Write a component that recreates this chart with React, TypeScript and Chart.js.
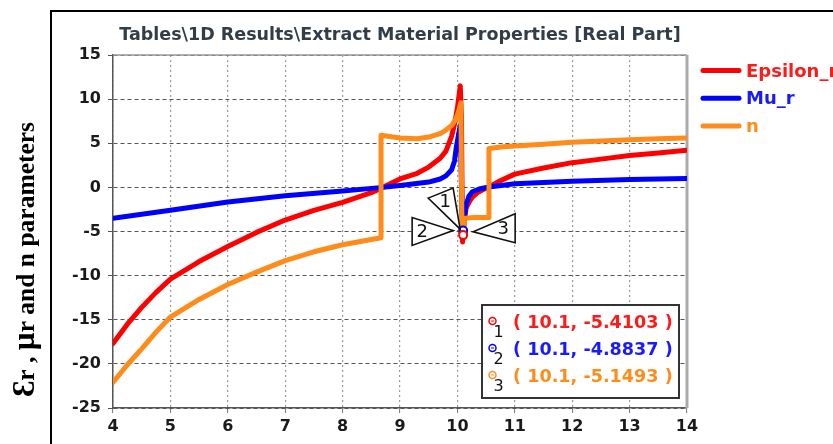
import React, { useEffect, useRef } from "react";
import { Chart, registerables } from "chart.js";
Chart.register(...registerables);

// ---------------- data ----------------
const epsX = [4, 4.25, 4.5, 4.75, 5, 5.5, 6, 6.5, 7, 7.5, 8, 8.5, 8.7, 9, 9.3, 9.5, 9.7, 9.8, 9.9, 9.95, 10.0, 10.03, 10.05, 10.07, 10.09, 10.1, 10.12, 10.15, 10.2, 10.26, 10.35, 10.45, 10.55, 10.7, 11, 11.5, 12, 12.5, 13, 13.5, 14];
const epsY = [-17.7, -15.5, -13.6, -11.9, -10.4, -8.4, -6.7, -5.1, -3.7, -2.6, -1.7, -0.6, 0, 0.95, 1.6, 2.3, 3.3, 4.1, 5.8, 7.2, 9.0, 10.5, 11.5, 8.0, -6.2, -5.41, -3.8, -2.4, -1.7, -1.1, -0.6, -0.25, 0.05, 0.6, 1.5, 2.2, 2.8, 3.2, 3.6, 3.9, 4.2];

const muX = [4, 5, 6, 7, 8, 8.7, 9, 9.5, 9.7, 9.8, 9.9, 9.95, 9.98, 10.02, 10.05, 10.08, 10.1, 10.12, 10.15, 10.2, 10.26, 10.4, 10.55, 11, 12, 13, 14];
const muY = [-3.5, -2.6, -1.65, -0.95, -0.4, 0, 0.2, 0.6, 0.95, 1.3, 2.0, 3.0, 4.5, 6.0, 7.0, -3.0, -4.88, -3.6, -2.0, -1.0, -0.5, -0.15, 0.05, 0.4, 0.7, 0.9, 1.0];

const nX = [4, 4.25, 4.5, 4.75, 5, 5.5, 6, 6.5, 7, 7.5, 8, 8.5, 8.67, 8.67, 9, 9.3, 9.5, 9.7, 9.8, 9.9, 9.97, 10.02, 10.06, 10.08, 10.1, 10.13, 10.3, 10.55, 10.55, 10.8, 11, 11.5, 12, 12.5, 13, 13.5, 14];
const nY = [-22.1, -20.1, -18.3, -16.4, -14.7, -12.7, -11.0, -9.6, -8.3, -7.3, -6.5, -5.9, -5.7, 5.9, 5.6, 5.5, 5.7, 6.1, 6.5, 7.0, 7.7, 8.6, 9.6, -5.15, -5.15, -3.5, -3.4, -3.4, 4.4, 4.6, 4.7, 4.9, 5.1, 5.25, 5.4, 5.5, 5.6];

const seriesNames = ["Epsilon_r", "Mu_r", "n"];
const seriesColors = ["#ff0000", "#0000ff", "#ff8c1a"];
const textColors = ["#ff1a1a", "#1a1aff", "#ff8c1a"];

const markerX = [10.1, 10.1, 10.1];
const markerY = [-5.4103, -4.8837, -5.1493];
const markerLabels = ["1", "2", "3"];

const xMin = 4, xMax = 14, xStep = 1;
const yMin = -25, yMax = 15, yStep = 5;

const titleText = "Tables\\1D Results\\Extract Material Properties [Real Part]";
const yTitleParts: [string, number][] = [["Ɛ", 31], ["r , ", 25.5], ["µ", 31], ["r and n parameters", 25.5]];

const FONT = "'DejaVu Sans', Verdana, sans-serif";
const SERIF = "'Liberation Serif', 'Times New Roman', serif";

// triangle pointer offsets (pixels, relative to each marker)
const triShapes: { pts: [number, number][]; label: [number, number] }[] = [
  { pts: [[-35, -37], [-10, -47], [-3, -6]], label: [-18, -33] },
  { pts: [[-51, -13], [-51, 15], [-10, 0]], label: [-41, 2] },
  { pts: [[52, -19], [52, 10], [10, -1]], label: [40, -3] },
];

export default function App() {
  const ref = useRef<HTMLCanvasElement>(null);

  useEffect(() => {
    const canvas = ref.current!;

    const overlay = {
      id: "overlay",
      beforeDraw(chart: any) {
        const ctx = chart.ctx;
        ctx.save();
        ctx.fillStyle = "#ffffff";
        ctx.fillRect(0, 0, chart.width, chart.height);
        ctx.strokeStyle = "#000";
        ctx.lineWidth = 2;
        ctx.beginPath();
        ctx.moveTo(51, chart.height + 2);
        ctx.lineTo(51, 11);
        ctx.lineTo(chart.width + 2, 11);
        ctx.stroke();
        ctx.restore();
      },
      beforeDatasetsDraw(chart: any) {
        const ctx = chart.ctx;
        const a = chart.chartArea;
        ctx.save();
        ctx.strokeStyle = "#999";
        ctx.lineWidth = 1.5;
        ctx.beginPath();
        ctx.moveTo(a.left, a.top);
        ctx.lineTo(a.right, a.top);
        ctx.stroke();
        ctx.strokeStyle = "#aaa";
        ctx.lineWidth = 3;
        ctx.beginPath();
        ctx.moveTo(a.right, a.top);
        ctx.lineTo(a.right, a.bottom);
        ctx.stroke();
        ctx.restore();
      },
      afterDraw(chart: any) {
        const ctx = chart.ctx;
        const a = chart.chartArea;
        const xs = chart.scales.x;
        const ys = chart.scales.y;
        ctx.save();

        // title
        ctx.font = `bold 17.5px ${FONT}`;
        ctx.fillStyle = "#333d48";
        ctx.textAlign = "center";
        ctx.textBaseline = "alphabetic";
        ctx.fillText(titleText, (a.left + a.right) / 2, 39.5);

        // legend
        for (let i = 0; i < seriesNames.length; i++) {
          const y = 70.5 + i * 27.7;
          ctx.strokeStyle = seriesColors[i];
          ctx.lineWidth = 5;
          ctx.lineCap = "round";
          ctx.beginPath();
          ctx.moveTo(703, y);
          ctx.lineTo(739, y);
          ctx.stroke();
          ctx.font = `bold 18px ${FONT}`;
          ctx.fillStyle = textColors[i];
          ctx.textAlign = "left";
          ctx.fillText(seriesNames[i], 746, y + 6);
        }

        // y title (rotated)
        ctx.save();
        ctx.translate(33.5, 397);
        ctx.rotate(-Math.PI / 2);
        ctx.fillStyle = "#000";
        ctx.textAlign = "left";
        let off = 0;
        for (const [s, sz] of yTitleParts) {
          ctx.font = `bold ${sz}px ${SERIF}`;
          ctx.fillText(s, off, 0);
          off += ctx.measureText(s).width;
        }
        ctx.restore();

        // triangle pointers
        for (let i = 0; i < markerX.length; i++) {
          const px = xs.getPixelForValue(markerX[i]);
          const py = ys.getPixelForValue(markerY[i]);
          const t = triShapes[i];
          ctx.beginPath();
          ctx.moveTo(px + t.pts[0][0], py + t.pts[0][1]);
          for (let k = 1; k < t.pts.length; k++) ctx.lineTo(px + t.pts[k][0], py + t.pts[k][1]);
          ctx.closePath();
          ctx.fillStyle = "#fff";
          ctx.fill();
          ctx.strokeStyle = "#111";
          ctx.lineWidth = 1.6;
          ctx.lineJoin = "miter";
          ctx.stroke();
          ctx.font = `18px ${FONT}`;
          ctx.fillStyle = "#111";
          ctx.textAlign = "center";
          ctx.textBaseline = "middle";
          ctx.fillText(markerLabels[i], px + t.label[0], py + t.label[1]);
        }

        // info box
        const bx = 482, by = 305, bw = 197, bh = 93;
        ctx.fillStyle = "#fff";
        ctx.fillRect(bx, by, bw, bh);
        ctx.strokeStyle = "#333";
        ctx.lineWidth = 2;
        ctx.strokeRect(bx, by, bw, bh);
        const rowY = [323, 350, 377];
        for (let i = 0; i < markerX.length; i++) {
          const cy = rowY[i];
          ctx.strokeStyle = seriesColors[i];
          ctx.lineWidth = 1.5;
          ctx.beginPath();
          ctx.arc(492.5, cy - 2, 3.5, 0, Math.PI * 2);
          ctx.stroke();
          ctx.fillStyle = seriesColors[i];
          ctx.fillRect(491, cy - 2.5, 3, 1);
          ctx.font = `16px ${FONT}`;
          ctx.fillStyle = "#111";
          ctx.textAlign = "center";
          ctx.textBaseline = "middle";
          ctx.fillText(markerLabels[i], 498.5, cy + 10);
          ctx.font = `bold 17.6px ${FONT}`;
          ctx.fillStyle = textColors[i];
          ctx.textAlign = "left";
          ctx.fillText(`( ${markerX[i]}, ${markerY[i].toFixed(4)} )`, 513, cy);
        }
        ctx.restore();
      },
    };

    const lineDs = (i: number, xsArr: number[], ysArr: number[], order: number) => ({
      label: seriesNames[i],
      data: xsArr.map((x, k) => ({ x, y: ysArr[k] })),
      borderColor: seriesColors[i],
      backgroundColor: seriesColors[i],
      borderWidth: 5,
      pointRadius: 0,
      tension: 0,
      fill: false,
      order,
      borderJoinStyle: "round" as const,
      borderCapStyle: "round" as const,
    });

    const markerDs = (i: number) => ({
      label: "m" + markerLabels[i],
      data: [{ x: markerX[i], y: markerY[i] }],
      showLine: false,
      pointRadius: 4,
      pointBackgroundColor: "#fff",
      pointBorderColor: seriesColors[i],
      pointBorderWidth: 2,
      order: 0,
    });

    const chart = new Chart(canvas, {
      type: "line",
      data: {
        datasets: [
          lineDs(0, epsX, epsY, 3),
          lineDs(1, muX, muY, 2),
          lineDs(2, nX, nY, 1),
          markerDs(0),
          markerDs(1),
          markerDs(2),
        ],
      },
      options: {
        animation: false,
        responsive: false,
        devicePixelRatio: 1,
        layout: { padding: { left: 0, top: 55, right: 146, bottom: 0 } },
        plugins: {
          legend: { display: false },
          title: { display: false },
          tooltip: { enabled: false },
        },
        scales: {
          x: {
            type: "linear",
            min: xMin,
            max: xMax,
            afterFit: (s: any) => { s.height = 36; },
            ticks: {
              stepSize: xStep,
              color: "#1a1a1a",
              font: { family: FONT, size: 16, weight: "bold" },
              padding: 4,
              maxRotation: 0,
              autoSkip: false,
            },
            grid: { color: "#9a9a9a", lineWidth: 1.2, tickLength: 5, tickColor: "#777", tickWidth: 1 },
            border: { display: true, color: "#555", width: 1.5, dash: [2, 3] },
          },
          y: {
            type: "linear",
            min: yMin,
            max: yMax,
            afterFit: (s: any) => { s.width = 113; },
            ticks: {
              stepSize: yStep,
              color: "#1a1a1a",
              font: { family: FONT, size: 16, weight: "bold" },
              padding: 7,
            },
            grid: { color: "#555", lineWidth: 1, tickLength: 5, tickColor: "#555", tickWidth: 1 },
            border: { display: true, color: "#555", width: 1.5, dash: [4, 3] },
          },
        },
      } as any,
      plugins: [overlay],
    });
    return () => chart.destroy();
  }, []);

  return (
    <div style={{ position: "fixed", left: 0, top: 0, width: 833, height: 444, background: "#fff" }}>
      <canvas ref={ref} width={833} height={444} style={{ width: 833, height: 444, display: "block" }} />
    </div>
  );
}
